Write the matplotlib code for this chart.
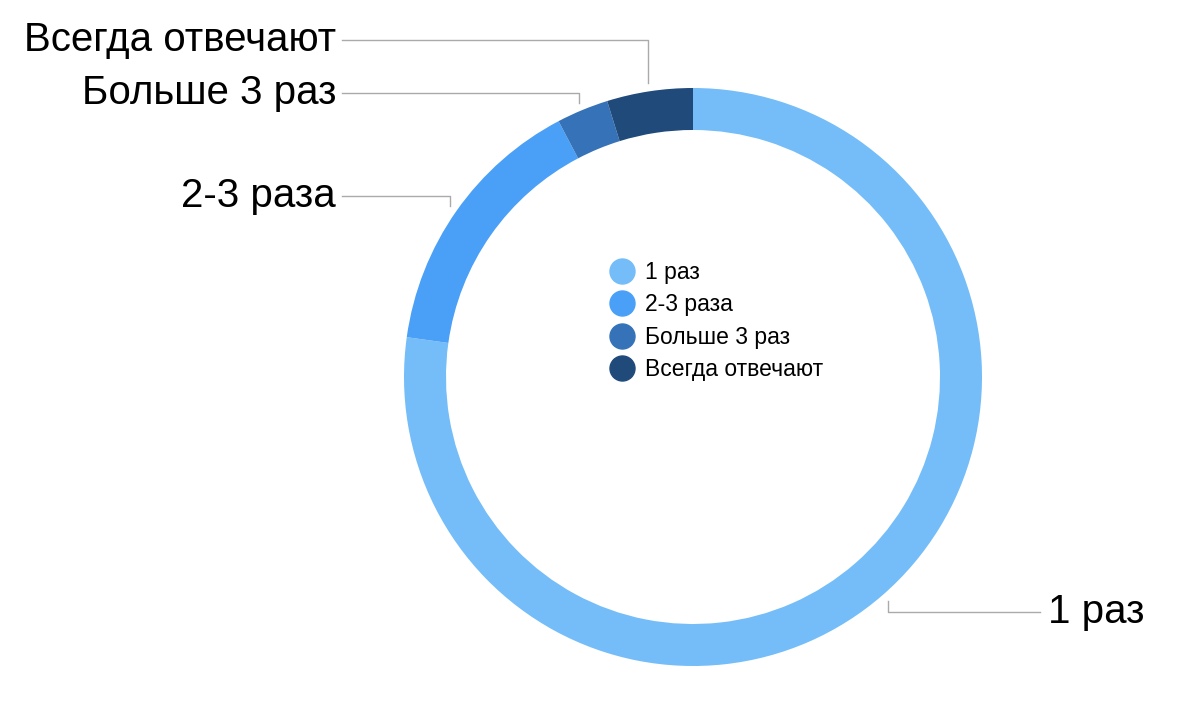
import numpy as np
import matplotlib.pyplot as plt
from matplotlib.lines import Line2D

plt.rcParams['font.family'] = ['Liberation Sans', 'DejaVu Sans']

labels = ["1 раз", "2-3 раза", "Больше 3 раз", "Всегда отвечают"]
values = [77.2, 15.1, 2.9, 4.8]
colors = ["#74BDF8", "#4A9FF7", "#3572B8", "#1F4A7A"]

W, H = 1200, 702
fig = plt.figure(figsize=(12, 7.02), dpi=100)
ax = fig.add_axes([0, 0, 1, 1])

cx, cy, R = 693, H - 377, 289
wedges, _ = ax.pie(values, colors=colors, startangle=90, counterclock=False,
                   center=(cx, cy), radius=R, wedgeprops=dict(width=42, linewidth=0),
                   frame=True)
ax.set_xlim(0, W)
ax.set_ylim(0, H)
ax.set_aspect('equal')
ax.axis('off')

# label text anchor positions (pixels from top)
label_pos = {
    "1 раз": (1048, 612, 'left'),
    "2-3 раза": (336, 196, 'right'),
    "Больше 3 раз": (336, 93, 'right'),
    "Всегда отвечают": (336, 40, 'right'),
}
for w, lab in zip(wedges, labels):
    ang = np.deg2rad((w.theta1 + w.theta2) / 2)
    ex, ey = cx + (R + 8) * np.cos(ang), cy + (R + 8) * np.sin(ang)
    tx, ty, ha = label_pos[lab]
    ty = H - ty
    x0 = tx + (-8 if ha == 'left' else 6)
    ax.plot([x0, ex, ex], [ty, ty, ey], color='#aaaaaa', lw=1)
    ax.text(tx, ty, lab, fontsize=29, ha=ha, va='center', color='black')

handles = [Line2D([], [], marker='o', ls='', markersize=18, markerfacecolor=c,
                  markeredgecolor=c) for c in colors]
ax.legend(handles, labels, loc='center left', bbox_to_anchor=(588 / W, (H - 321) / H),
          frameon=False, fontsize=16.5, handletextpad=0.4, labelspacing=0.4,
          handlelength=1.2)

fig.savefig('out.png', dpi=100)
